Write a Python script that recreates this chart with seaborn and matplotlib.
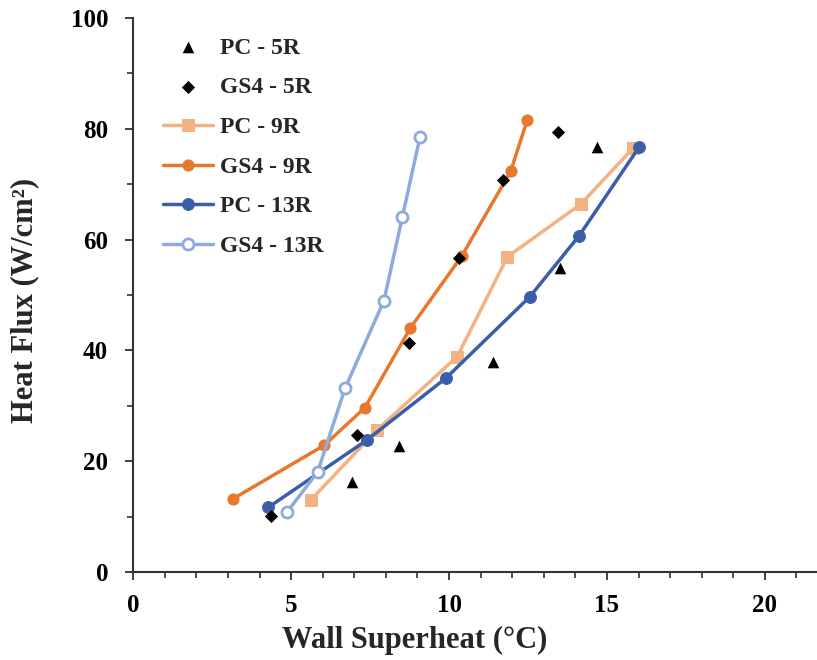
import matplotlib
matplotlib.use("Agg")
import matplotlib.pyplot as plt
import seaborn as sns
import pandas as pd
from matplotlib.ticker import MultipleLocator

sns.set_theme(style="ticks")
plt.rcParams['font.family'] = ['Liberation Serif', 'DejaVu Serif']
plt.rcParams['font.weight'] = 'bold'

pc5_x = [6.92, 8.42, 11.4, 13.5, 14.7]
pc5_y = [16.3, 22.8, 37.9, 54.9, 76.7]

gs5_x = [4.37, 7.08, 8.73, 10.33, 11.72, 13.46]
gs5_y = [10.1, 24.7, 41.4, 56.7, 70.8, 79.4]

pc9_x = [5.62, 7.71, 10.26, 11.85, 14.17, 15.83]
pc9_y = [13.0, 25.6, 38.9, 56.9, 66.4, 76.5]

gs9_x = [3.15, 6.05, 7.34, 8.77, 10.4, 11.95, 12.48]
gs9_y = [13.2, 22.9, 29.7, 44.0, 57.0, 72.3, 81.6]

pc13_x = [4.28, 7.39, 9.9, 12.56, 14.12, 16.02]
pc13_y = [11.7, 23.8, 35.0, 49.7, 60.7, 76.7]

gs13_x = [4.88, 5.84, 6.71, 7.94, 8.52, 9.08]
gs13_y = [10.9, 18.1, 33.2, 49.0, 64.0, 78.5]

fig = plt.figure(figsize=(8.17, 6.6), dpi=100)
ax = fig.add_axes([0.163, 0.133, 0.837, 0.840])

sns.scatterplot(x=pc5_x, y=pc5_y, ax=ax, marker='^', color='black', s=70,
                edgecolor='black', linewidth=0, label='PC - 5R', zorder=5)
sns.scatterplot(x=gs5_x, y=gs5_y, ax=ax, marker='D', color='black', s=45,
                edgecolor='black', linewidth=0, label='GS4 - 5R', zorder=6)
sns.lineplot(x=pc9_x, y=pc9_y, ax=ax, sort=False, color='#F4B183', lw=2.5,
             marker='s', markersize=8, markeredgecolor='#F4B183', label='PC - 9R')
sns.lineplot(x=gs9_x, y=gs9_y, ax=ax, sort=False, color='#E8782E', lw=2.5,
             marker='o', markersize=8, markeredgecolor='#E8782E', label='GS4 - 9R')
sns.lineplot(x=pc13_x, y=pc13_y, ax=ax, sort=False, color='#3A5FA8', lw=2.5,
             marker='o', markersize=8.5, markeredgecolor='#3A5FA8', label='PC - 13R')
sns.lineplot(x=gs13_x, y=gs13_y, ax=ax, sort=False, color='#8FAADC', lw=2.5,
             marker='o', markersize=8, markerfacecolor='white', markeredgewidth=2,
             markeredgecolor='#8FAADC', label='GS4 - 13R')

ax.set_xlim(0, 21.65)
ax.set_ylim(0, 100)
ax.xaxis.set_major_locator(MultipleLocator(5))
ax.xaxis.set_minor_locator(MultipleLocator(1))
ax.yaxis.set_major_locator(MultipleLocator(20))
ax.yaxis.set_minor_locator(MultipleLocator(10))
ax.tick_params(axis='both', which='major', length=6, width=1.3, labelsize=18,
               direction='out', color='#333333', labelcolor='black')
ax.tick_params(axis='x', which='major', pad=10)
ax.tick_params(axis='y', which='major', pad=12)
ax.tick_params(axis='both', which='minor', length=4, width=1.2, direction='out',
               color='#333333')
for lab in ax.get_xticklabels() + ax.get_yticklabels():
    lab.set_fontweight('bold')
sns.despine(ax=ax)
for sp in ['left', 'bottom']:
    ax.spines[sp].set_linewidth(1.5)
    ax.spines[sp].set_color('#333333')

ax.set_xlabel('Wall Superheat (°C)', fontsize=22, fontweight='bold',
              va='center', ha='center')
ax.xaxis.set_label_coords(0.412, -0.123)
ax.set_ylabel('Heat Flux (W/cm²)', fontsize=22, fontweight='bold',
              va='center', ha='center')
ax.yaxis.set_label_coords(-0.158, 0.49)

leg = ax.legend(loc='upper left', frameon=False, fontsize=17, handlelength=2.1,
                handletextpad=0.3, labelspacing=0.77, borderaxespad=0.3,
                bbox_to_anchor=(0.02, 0.995))
for t in leg.get_texts():
    t.set_fontweight('bold')

fig.savefig('out.png', dpi=100)
